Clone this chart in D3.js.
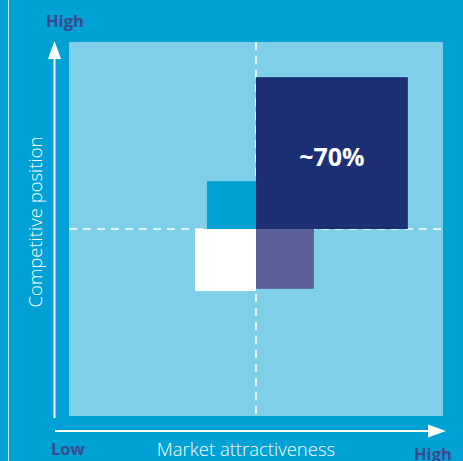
<!DOCTYPE html>
<html>
<head>
<meta charset="utf-8">
<script src="https://cdn.jsdelivr.net/npm/d3@7"></script>
<style>
  html, body { margin: 0; padding: 0; background: #00a1d5; }
  svg { display: block; }
</style>
</head>
<body>
<div id="chart"></div>
<script>
// data: boxes in (market attractiveness, competitive position), 0..1
const boxNames = ["core", "lowerRight", "lowerLeft", "upperLeft"];
const boxX0 = [0.5, 0.5, 0.337, 0.369];
const boxX1 = [0.906, 0.655, 0.5, 0.5];
const boxY0 = [0.5, 0.34, 0.334, 0.5];
const boxY1 = [0.906, 0.5, 0.5, 0.628];
const boxColors = ["#1c2f73", "#5c6099", "#ffffff", "#00a1d5"];
const boxLabels = ["~70%", "", "", ""];
const axisLabels = { x: "Market attractiveness", y: "Competitive position" };
const endLabels = { low: "Low", high: "High" };
const midpoint = 0.5;

const width = 463, height = 461;
const plot = { left: 69, right: 443, top: 42, bottom: 416 };
const font = "Open Sans, sans-serif";

const svg = d3.select("#chart").append("svg")
  .attr("width", width).attr("height", height);

svg.append("rect").attr("width", width).attr("height", height).attr("fill", "#00a1d5");

// thin border line at the left
svg.append("line")
  .attr("x1", 8.5).attr("x2", 8.5).attr("y1", 0).attr("y2", height)
  .attr("stroke", "#cfeaf5").attr("stroke-width", 1);

const x = d3.scaleLinear().domain([0, 1]).range([plot.left, plot.right]);
const y = d3.scaleLinear().domain([0, 1]).range([plot.bottom, plot.top]);

// plot area
svg.append("rect")
  .attr("x", x(0)).attr("y", y(1))
  .attr("width", x(1) - x(0)).attr("height", y(0) - y(1))
  .attr("fill", "#80cfe8");

// dashed mid lines
svg.append("line")
  .attr("x1", x(midpoint)).attr("x2", x(midpoint))
  .attr("y1", y(1)).attr("y2", y(0))
  .attr("stroke", "#fff").attr("stroke-width", 1.5)
  .attr("stroke-dasharray", "8,6");
svg.append("line")
  .attr("x1", x(0)).attr("x2", x(1))
  .attr("y1", y(midpoint)).attr("y2", y(midpoint))
  .attr("stroke", "#fff").attr("stroke-width", 1.5)
  .attr("stroke-dasharray", "8,6");

// boxes
const boxes = boxNames.map((name, i) => ({
  name, x0: boxX0[i], x1: boxX1[i], y0: boxY0[i], y1: boxY1[i],
  color: boxColors[i], label: boxLabels[i]
}));

svg.selectAll(".box")
  .data(boxes)
  .join("rect")
  .attr("class", "box")
  .attr("x", d => x(d.x0))
  .attr("y", d => y(d.y1))
  .attr("width", d => x(d.x1) - x(d.x0))
  .attr("height", d => y(d.y0) - y(d.y1))
  .attr("fill", d => d.color);

svg.selectAll(".box-label")
  .data(boxes.filter(d => d.label))
  .join("text")
  .attr("class", "box-label")
  .attr("x", d => x((d.x0 + d.x1) / 2))
  .attr("y", d => y((d.y0 + d.y1) / 2) + 13)
  .attr("text-anchor", "middle")
  .attr("fill", "#fff")
  .attr("font-family", font)
  .attr("font-weight", 700)
  .attr("font-size", 25)
  .text(d => d.label);

// axis arrows
const arrowX = 54.5, arrowY = 431;
svg.append("line")
  .attr("x1", arrowX).attr("x2", arrowX).attr("y1", 418).attr("y2", 56)
  .attr("stroke", "#fff").attr("stroke-width", 2);
svg.append("path")
  .attr("d", `M${arrowX},41 L${arrowX - 6.5},59 L${arrowX + 6.5},59 Z`)
  .attr("fill", "#fff");

svg.append("line")
  .attr("x1", 55).attr("x2", 430).attr("y1", arrowY).attr("y2", arrowY)
  .attr("stroke", "#fff").attr("stroke-width", 2);
svg.append("path")
  .attr("d", `M446,${arrowY} L428,${arrowY - 6.5} L428,${arrowY + 6.5} Z`)
  .attr("fill", "#fff");

// labels
const labelColor = "#3b4a8e";
svg.append("text")
  .attr("x", 46).attr("y", 27)
  .attr("fill", labelColor).attr("font-family", font)
  .attr("font-weight", 700).attr("font-size", 16.5)
  .text(endLabels.high);
svg.append("text")
  .attr("x", 51).attr("y", 455)
  .attr("fill", labelColor).attr("font-family", font)
  .attr("font-weight", 700).attr("font-size", 16.5)
  .text(endLabels.low);
svg.append("text")
  .attr("x", 414).attr("y", 460)
  .attr("fill", labelColor).attr("font-family", font)
  .attr("font-weight", 700).attr("font-size", 16.5)
  .text(endLabels.high);

svg.append("text")
  .attr("x", 246).attr("y", 456)
  .attr("text-anchor", "middle")
  .attr("fill", "#fff").attr("font-family", font)
  .attr("font-weight", 300).attr("font-size", 18.5)
  .text(axisLabels.x);

svg.append("text")
  .attr("transform", "translate(42,222) rotate(-90)")
  .attr("text-anchor", "middle")
  .attr("fill", "#fff").attr("font-family", font)
  .attr("font-weight", 300).attr("font-size", 18.5)
  .text(axisLabels.y);
</script>
</body>
</html>
